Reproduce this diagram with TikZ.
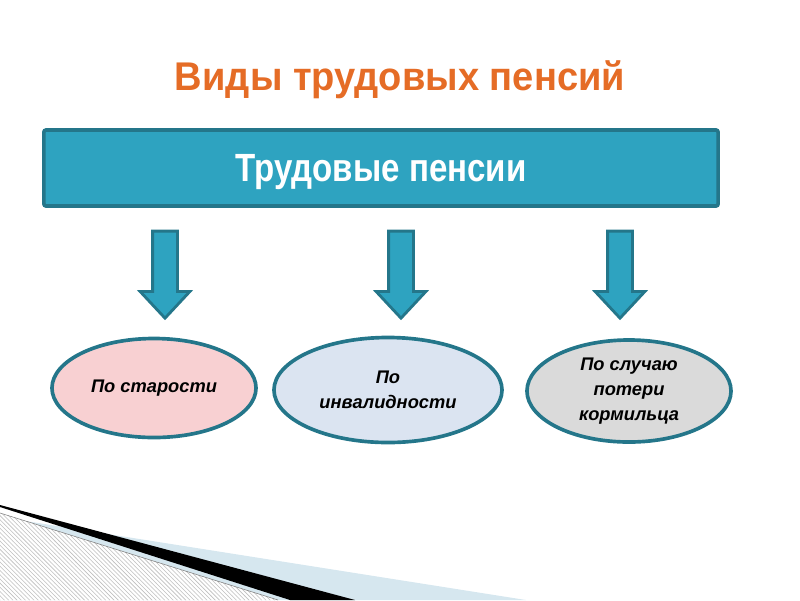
\documentclass[tikz,border=0pt]{standalone}
\usepackage{fontspec}
\setmainfont{Liberation Sans}
\newfontfamily\narrowsans[FakeStretch=0.84]{Liberation Sans}
\newfontfamily\titlesans[FakeStretch=0.95]{Liberation Sans}
\usetikzlibrary{shapes.geometric}
\usetikzlibrary{shapes.arrows}
\usetikzlibrary{patterns}
\definecolor{titleor}{RGB}{229,108,38}
\definecolor{tealfill}{RGB}{46,163,192}
\definecolor{tealline}{RGB}{36,118,138}
\definecolor{pinkfill}{RGB}{248,208,210}
\definecolor{bluefill}{RGB}{219,228,241}
\definecolor{grayfill}{RGB}{218,218,218}
\definecolor{bandblue}{RGB}{214,231,239}
\tikzset{ttl/.style={text=titleor, inner sep=0pt, font=\titlesans\bfseries\fontsize{28.5}{32}\selectfont}}
\tikzset{topbox/.style={draw=tealline, line width=2.6pt, fill=tealfill, rounded corners=1.5pt, minimum width=16.85cm, minimum height=1.9cm, text depth=0pt, text=white, font=\narrowsans\bfseries\fontsize{28}{32}\selectfont}}
\tikzset{downarr/.style={single arrow, draw=tealline, line width=2pt, fill=tealfill, rotate=-90, minimum height=2.175cm, inner xsep=0pt, inner ysep=0.275cm, single arrow head extend=0.31cm, single arrow tip angle=86}}
\tikzset{kind/.style={ellipse, draw=tealline, line width=2.6pt, inner sep=0pt, align=center, font=\bfseries\itshape\fontsize{13}{18}\selectfont}}

\begin{document}
\begin{tikzpicture}[x=0.025cm, y=-0.025cm]
        \useasboundingbox (0,0) rectangle (800,600);

        % corner decoration
        \fill[bandblue] (0,517) -- (526,600) -- (0,600) -- cycle;
        \fill[white] (0,513) -- (278,600) -- (0,600) -- cycle;
        \fill[pattern=north west lines, pattern color=gray!50] (0,513) -- (278,600) -- (0,600) -- cycle;
        \draw[gray, line width=0.4pt] (0,513) -- (278,600);
        \fill[black] (0,505) -- (355,600) -- (290,600) -- (0,507) -- cycle;

        \node[ttl, anchor=base] (title) at (400,90) {Виды трудовых пенсий};
        \node[topbox] (pens) at (381,168) {Трудовые пенсии};

        \node[downarr] (a1) at (165,268) {};
        \node[downarr] (a2) at (401,268) {};
        \node[downarr] (a3) at (620,268) {};

        \node[kind, fill=pinkfill, minimum width=5.1cm, minimum height=2.475cm] (old) at (154,388) {По старости};
        \node[kind, fill=bluefill, minimum width=5.7cm, minimum height=2.625cm] (inv) at (388,390) {По\\инвалидности};
        \node[kind, fill=grayfill, minimum width=5.1cm, minimum height=2.55cm] (loss) at (629,391) {По случаю\\потери\\кормильца};
    \end{tikzpicture}
\end{document}
